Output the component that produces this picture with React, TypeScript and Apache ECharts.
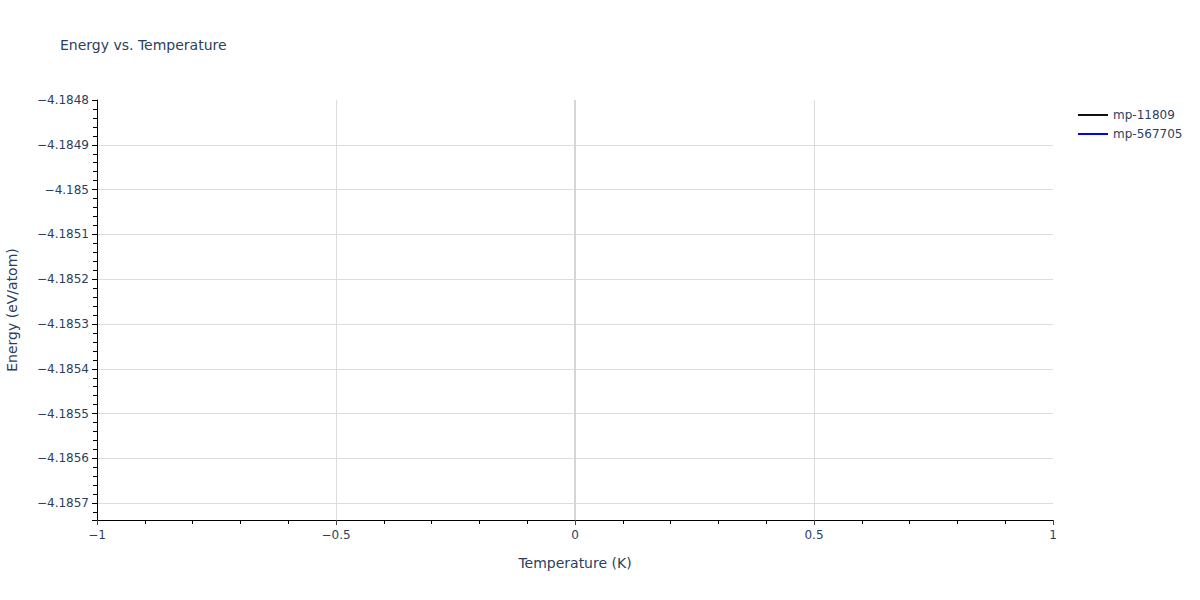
import React, { useEffect, useRef } from "react";
import * as echarts from "echarts";

const seriesNames = ["mp-11809", "mp-567705"];
const seriesColors = ["#111111", "#0000ff"];
const temperatures11809 = [0];
const energies11809 = [-4.1857375];
const temperatures567705 = [0];
const energies567705 = [-4.1848];
const xGridValues = [-0.5, 0, 0.5];

const FONT = "DejaVu Sans";
const TEXT = "#2a3f5f";
const GRID = "#dcdcdc";

function fmt(v: number): string {
  const s = parseFloat(v.toFixed(4)).toString();
  return s.replace("-", "\u2212");
}

export default function App() {
  const ref = useRef<HTMLDivElement>(null);
  useEffect(() => {
    if (!ref.current) return;
    const chart = echarts.init(ref.current, undefined, { renderer: "svg" });
    const pairs = (xs: number[], ys: number[]) => xs.map((x, i) => [x, ys[i]]);
    chart.setOption({
      animation: false,
      backgroundColor: "#ffffff",
      textStyle: { fontFamily: FONT },
      title: {
        text: "Energy vs. Temperature",
        left: 60,
        top: 38,
        padding: 0,
        textStyle: { fontFamily: FONT, fontSize: 14, fontWeight: "normal", color: TEXT },
      },
      legend: {
        orient: "vertical",
        left: 1078,
        top: 109,
        padding: 0,
        itemWidth: 30,
        itemHeight: 2,
        itemGap: 7,
        icon: "rect",
        data: seriesNames,
        textStyle: { fontFamily: FONT, fontSize: 12, color: TEXT },
      },
      grid: {
        left: 97,
        right: 147,
        top: 100,
        bottom: 80,
        containLabel: false,
        outerBoundsMode: "none",
      },
      xAxis: {
        type: "value",
        min: -1,
        max: 1,
        interval: 0.5,
        name: "Temperature (K)",
        nameLocation: "middle",
        nameGap: 36,
        nameTextStyle: { fontFamily: FONT, fontSize: 14, color: TEXT },
        axisLine: { show: true, onZero: false, lineStyle: { color: "#000000", width: 1 } },
        axisTick: { show: true, inside: false, length: 5, lineStyle: { color: "#444444" } },
        minorTick: { show: true, splitNumber: 5, length: 4, lineStyle: { color: "#000000" } },
        axisLabel: { margin: 9, fontFamily: FONT, fontSize: 12, color: TEXT, formatter: fmt },
        splitLine: { show: false },
      },
      yAxis: {
        type: "value",
        min: -4.1857375,
        max: -4.1848,
        splitNumber: 9,
        scale: true,
        name: "Energy (eV/atom)",
        nameLocation: "middle",
        nameGap: 78,
        nameTextStyle: { fontFamily: FONT, fontSize: 14, color: TEXT },
        axisLine: { show: true, onZero: false, lineStyle: { color: "#000000", width: 1 } },
        axisTick: { show: true, inside: false, length: 5, lineStyle: { color: "#000000" } },
        minorTick: { show: true, splitNumber: 5, length: 4, lineStyle: { color: "#000000" } },
        axisLabel: {
          margin: 8,
          fontFamily: FONT,
          fontSize: 12,
          color: TEXT,
          showMinLabel: false,
          formatter: fmt,
        },
        splitLine: {
          show: true,
          showMinLine: false,
          showMaxLine: false,
          lineStyle: { color: GRID, width: 1 },
        },
      },
      series: [
        {
          name: seriesNames[0],
          type: "line",
          showSymbol: false,
          color: seriesColors[0],
          lineStyle: { color: seriesColors[0], width: 2 },
          data: pairs(temperatures11809, energies11809),
          markLine: {
            silent: true,
            symbol: "none",
            label: { show: false },
            data: xGridValues.map((v) => ({
              xAxis: v,
              lineStyle: {
                color: v === 0 ? "#d6d6d6" : GRID,
                width: v === 0 ? 2 : 1,
                type: "solid",
              },
            })),
          },
          z: 1,
        },
        {
          name: seriesNames[1],
          type: "line",
          showSymbol: false,
          color: seriesColors[1],
          lineStyle: { color: seriesColors[1], width: 2 },
          data: pairs(temperatures567705, energies567705),
        },
      ],
    });
    return () => chart.dispose();
  }, []);
  return (
    <div
      ref={ref}
      style={{ position: "fixed", left: 0, top: 0, width: 1200, height: 600 }}
    />
  );
}
